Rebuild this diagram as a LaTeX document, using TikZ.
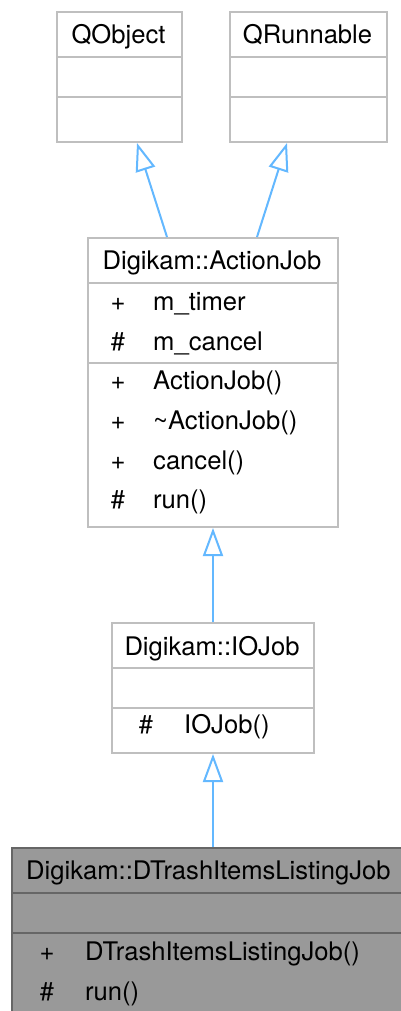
\documentclass[tikz,border=0pt]{standalone}
\usepackage{fontspec}
\setmainfont{TeX Gyre Heros}
\usetikzlibrary{arrows.meta}
\definecolor{bordergray}{HTML}{BFBFBF}
\definecolor{darkborder}{HTML}{666666}
\definecolor{darkfill}{HTML}{999999}
\definecolor{arrowblue}{HTML}{63B8FF}
\begin{document}
\begin{tikzpicture}[x=1pt,y=-1pt,
  box/.style={draw=bordergray, line width=2pt, rectangle, inner sep=0pt, anchor=north west},
  dbox/.style={draw=darkborder, fill=darkfill, line width=2pt, rectangle, inner sep=0pt, anchor=north west},
  sep/.style={draw=bordergray, line width=2pt},
  dsep/.style={draw=darkborder, line width=2pt},
  txt/.style={font=\fontsize{25.6}{30}\selectfont, inner sep=0pt, text=black},
  inh/.style={draw=arrowblue, line width=2pt, -{Triangle[open, length=28pt, width=20pt, line width=2pt]}}]
\useasboundingbox (0,0) rectangle (401,1011);
\clip (0,0) rectangle (401,1011);
\fill[white] (0,0) rectangle (401,1011);

% QObject
\node[box, minimum width=125pt, minimum height=130pt] (qo) at (56,11) {};
\draw[sep] (56,57) -- (181,57);
\draw[sep] (56,97) -- (181,97);
\node[txt, anchor=base] (qot) at (118.5,44) {QObject};

% QRunnable
\node[box, minimum width=157pt, minimum height=130pt] (qr) at (229,11) {};
\draw[sep] (229,57) -- (386,57);
\draw[sep] (229,97) -- (386,97);
\node[txt, anchor=base] (qrt) at (307.5,44) {QRunnable};

% ActionJob
\node[box, minimum width=250pt, minimum height=289pt] (aj) at (87,237) {};
\draw[sep] (87,283) -- (337,283);
\draw[sep] (87,363) -- (337,363);
\node[txt, anchor=base] (ajt) at (212,269) {Digikam::ActionJob};
\node[txt, anchor=base] (aj1s) at (118,310) {+};
\node[txt, anchor=base west] (aj1) at (153,310) {m\_timer};
\node[txt, anchor=base] (aj2s) at (118,350) {\#};
\node[txt, anchor=base west] (aj2) at (153,350) {m\_cancel};
\node[txt, anchor=base] (aj3s) at (118,389) {+};
\node[txt, anchor=base west] (aj3) at (153,389) {ActionJob()};
\node[txt, anchor=base] (aj4s) at (118,429) {+};
\node[txt, anchor=base west] (aj4) at (153,429) {\textasciitilde ActionJob()};
\node[txt, anchor=base] (aj5s) at (118,469) {+};
\node[txt, anchor=base west] (aj5) at (153,469) {cancel()};
\node[txt, anchor=base] (aj6s) at (118,508) {\#};
\node[txt, anchor=base west] (aj6) at (153,508) {run()};

% IOJob
\node[box, minimum width=202pt, minimum height=130pt] (io) at (111,622) {};
\draw[sep] (111,668) -- (313,668);
\draw[sep] (111,708) -- (313,708);
\node[txt, anchor=base] (iot) at (212,655) {Digikam::IOJob};
\node[txt, anchor=base] (io1s) at (146,733) {\#};
\node[txt, anchor=base west] (io1) at (184,733) {IOJob()};

% DTrashItemsListingJob
\node[dbox, minimum width=420pt, minimum height=200pt] (dt) at (11,847) {};
\draw[dsep] (11,893) -- (431,893);
\draw[dsep] (11,933) -- (431,933);
\node[txt, anchor=base west] (dtt) at (26,879) {Digikam::DTrashItemsListingJob};
\node[txt, anchor=base] (dt1s) at (47,960) {+};
\node[txt, anchor=base west] (dt1) at (85,960) {DTrashItemsListingJob()};
\node[txt, anchor=base] (dt2s) at (47,1000) {\#};
\node[txt, anchor=base west] (dt2) at (85,1000) {run()};

% inheritance arrows
\draw[inh] ([xshift=80pt]aj.north west) -- ([xshift=81pt]qo.south west);
\draw[inh] ([xshift=170pt]aj.north west) -- ([xshift=58pt]qr.south west);
\draw[inh] (io.north) -- (aj.south);
\draw[inh] (io.south |- dt.north) -- (io.south);
\end{tikzpicture}
\end{document}
